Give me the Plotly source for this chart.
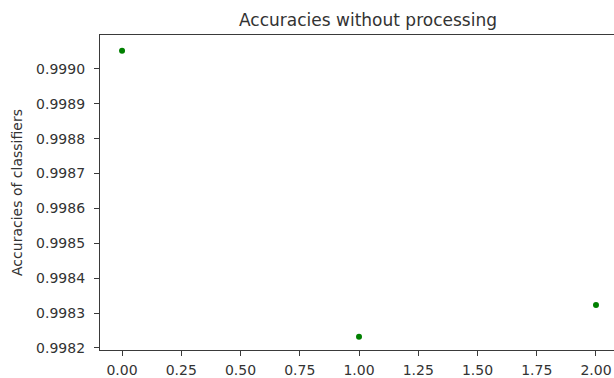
import plotly.graph_objects as go

classifier_index = [0, 1, 2]
accuracies = [0.999052, 0.998232, 0.998323]
x_ticks = [0.0, 0.25, 0.5, 0.75, 1.0, 1.25, 1.5, 1.75, 2.0]
x_tick_labels = ["0.00", "0.25", "0.50", "0.75", "1.00", "1.25", "1.50", "1.75", "2.00"]
y_ticks = [0.9982, 0.9983, 0.9984, 0.9985, 0.9986, 0.9987, 0.9988, 0.9989, 0.9990]
y_tick_labels = ["%.4f" % v for v in y_ticks]

font_family = "DejaVu Sans"
axis_color = "#3a3a3a"
text_color = "#333333"

fig = go.Figure()
fig.add_trace(go.Scatter(
    x=classifier_index, y=accuracies, mode="markers",
    marker=dict(color="#008000", size=6, line=dict(width=0)),
    showlegend=False,
))

fig.update_layout(
    width=614, height=378,
    margin=dict(l=100, r=0, t=35, b=26),
    paper_bgcolor="white", plot_bgcolor="white",
    font=dict(family=font_family, size=14, color=text_color),
    title=dict(
        text="Accuracies without processing",
        font=dict(family=font_family, size=17, color=text_color),
        x=368 / 614, xref="container", xanchor="center",
        y=1 - 20 / 378, yref="container", yanchor="middle",
    ),
)

fig.update_xaxes(
    range=[-0.093, 2.076],
    tickvals=x_ticks, ticktext=x_tick_labels,
    showgrid=False, zeroline=False,
    showline=True, linecolor=axis_color, linewidth=1.2, mirror=True,
    ticks="outside", ticklen=5, tickcolor=axis_color, tickwidth=1,
    ticklabelstandoff=2,
    tickfont=dict(family=font_family, size=14, color=text_color),
)
fig.update_yaxes(
    range=[0.998194, 0.999097],
    tickvals=y_ticks, ticktext=y_tick_labels,
    showgrid=False, zeroline=False,
    showline=True, linecolor=axis_color, linewidth=1.2, mirror=False,
    ticks="outside", ticklen=5, tickcolor=axis_color, tickwidth=1,
    ticklabelstandoff=6,
    tickfont=dict(family=font_family, size=14, color=text_color),
    title=dict(text="Accuracies of classifiers", standoff=10,
               font=dict(family=font_family, size=14, color=text_color)),
)

fig.write_html("out.html")
